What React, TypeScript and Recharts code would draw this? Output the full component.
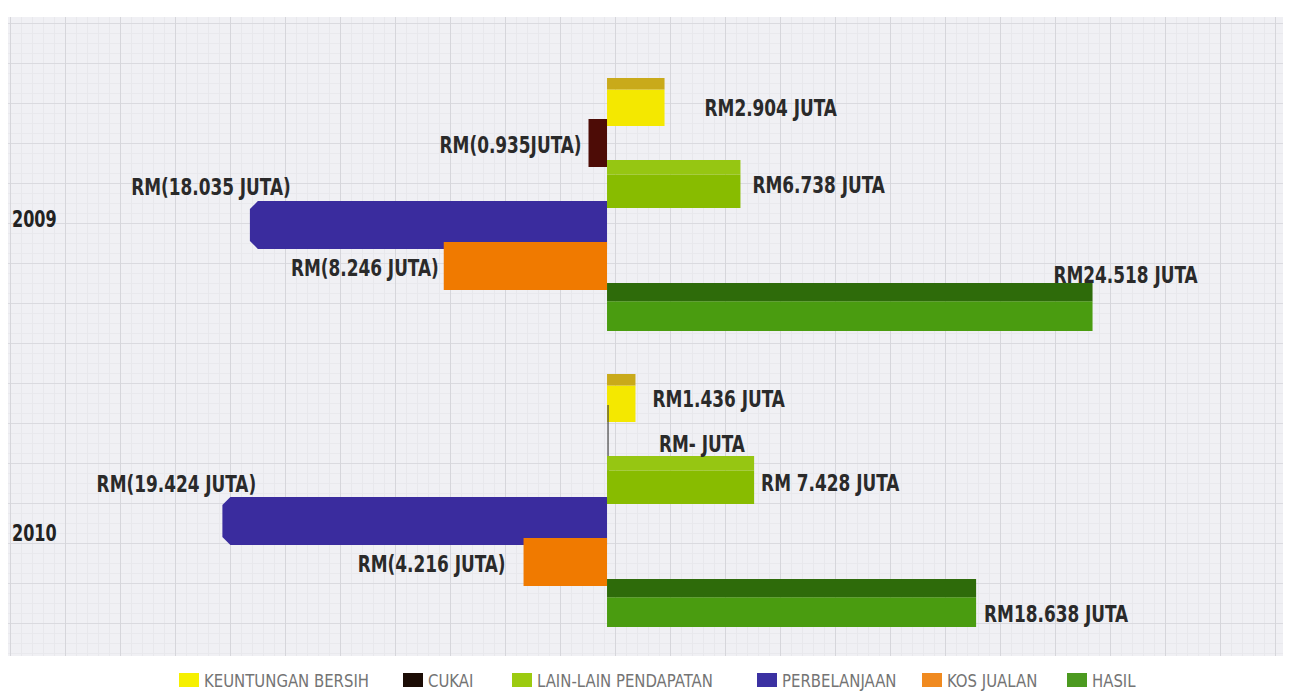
import React from 'react';
import { BarChart, Bar, XAxis, YAxis, Legend, LabelList } from 'recharts';

// ---------- data ----------
const years = ['2009', '2010'];
const keuntunganBersih = [2.904, 1.436];
const cukai = [-0.935, 0];
const lainLainPendapatan = [6.738, 7.428];
const perbelanjaan = [-18.035, -19.424];
const kosJualan = [-8.246, -4.216];
const hasil = [24.518, 18.638];

const labelsKeuntungan = ['RM2.904 JUTA', 'RM1.436 JUTA'];
const labelsCukai = ['RM(0.935JUTA)', 'RM- JUTA'];
const labelsLain = ['RM6.738 JUTA', 'RM 7.428 JUTA'];
const labelsPerbelanjaan = ['RM(18.035 JUTA)', 'RM(19.424 JUTA)'];
const labelsKos = ['RM(8.246 JUTA)', 'RM(4.216 JUTA)'];
const labelsHasil = ['RM24.518 JUTA', 'RM18.638 JUTA'];

const seriesNames = [
  'KEUNTUNGAN BERSIH',
  'CUKAI',
  'LAIN-LAIN PENDAPATAN',
  'PERBELANJAAN',
  'KOS JUALAN',
  'HASIL',
];

const data = years.map((year, i) => ({
  year,
  keuntungan: keuntunganBersih[i],
  cukai: cukai[i],
  lain: lainLainPendapatan[i],
  perbelanjaan: perbelanjaan[i],
  kos: kosJualan[i],
  hasil: hasil[i],
  lKeuntungan: labelsKeuntungan[i],
  lCukai: labelsCukai[i],
  lLain: labelsLain[i],
  lPerbelanjaan: labelsPerbelanjaan[i],
  lKos: labelsKos[i],
  lHasil: labelsHasil[i],
}));

// ---------- styles ----------
const LABEL_FONT = "'DejaVu Sans Condensed', 'DejaVu Sans', sans-serif";
const LABEL_SCALE_X = 0.8;

type Place = { mode: 'right' | 'left' | 'aboveLeft' | 'aboveRight'; dx: number; dy: number };

const SERIES = [
  {
    key: 'keuntungan', label: 'lKeuntungan', name: seriesNames[0],
    front: '#f4e800', top: '#c9aa1a', topRatio: 0.24, legend: '#f6f000', bevel: 0,
    place: [{ mode: 'right', dx: 40, dy: 5 }, { mode: 'right', dx: 17, dy: 0 }] as Place[],
  },
  {
    key: 'cukai', label: 'lCukai', name: seriesNames[1],
    front: '#4d0c06', top: '#3e0904', topRatio: 0, legend: '#1c0d06', bevel: 0,
    place: [{ mode: 'left', dx: 7, dy: 1 }, { mode: 'right', dx: 52, dy: 4 }] as Place[],
  },
  {
    key: 'lain', label: 'lLain', name: seriesNames[2],
    front: '#88bc00', top: '#96c612', topRatio: 0.3, legend: '#9ccb10', bevel: 0,
    place: [{ mode: 'right', dx: 12, dy: 0 }, { mode: 'right', dx: 7, dy: 2 }] as Place[],
  },
  {
    key: 'perbelanjaan', label: 'lPerbelanjaan', name: seriesNames[3],
    front: '#3a2c9e', top: '#3a2c9e', topRatio: 0, legend: '#3b31a2', bevel: 8,
    place: [{ mode: 'aboveLeft', dx: -39, dy: -15 }, { mode: 'aboveLeft', dx: -46, dy: -14 }] as Place[],
  },
  {
    key: 'kos', label: 'lKos', name: seriesNames[4],
    front: '#f07a00', top: '#f07a00', topRatio: 0, legend: '#f08a20', bevel: 0,
    place: [{ mode: 'left', dx: 5, dy: 1 }, { mode: 'left', dx: 18, dy: 1 }] as Place[],
  },
  {
    key: 'hasil', label: 'lHasil', name: seriesNames[5],
    front: '#4a9c10', top: '#2e6b0a', topRatio: 0.38, legend: '#4c9a20', bevel: 0,
    place: [{ mode: 'aboveRight', dx: 33, dy: -9 }, { mode: 'right', dx: 8, dy: 10 }] as Place[],
  },
];

const makeShape = (s: typeof SERIES[number]) => (props: any) => {
  const { x, y, width, height } = props;
  if (x == null || y == null) return <g />;
  const x0 = Math.min(x, x + width);
  const w = Math.abs(width);
  const h = Math.abs(height);
  const y0 = Math.min(y, y + height);
  if (w < 1) {
    return <line x1={x0 + 1} x2={x0 + 1} y1={y0 - 10} y2={y0 + h + 14} stroke="#444" strokeWidth={1.2} />;
  }
  const th = h * s.topRatio;
  const b = Math.min(s.bevel, w / 2);
  if (b > 0) {
    const pts = [
      [x0 + b, y0], [x0 + w, y0], [x0 + w, y0 + h], [x0 + b, y0 + h], [x0, y0 + h - b], [x0, y0 + b],
    ].map((p) => p.join(',')).join(' ');
    return <polygon points={pts} fill={s.front} />;
  }
  return (
    <g>
      <rect x={x0} y={y0 + th} width={w} height={h - th} fill={s.front} />
      {th > 0 && <rect x={x0} y={y0} width={w} height={th} fill={s.top} />}
    </g>
  );
};

const makeLabel = (s: typeof SERIES[number]) => (props: any) => {
  const vb = props.viewBox && props.viewBox.width != null ? props.viewBox : props;
  const { value, index } = props;
  if (vb.x == null) return null;
  const x0 = Math.min(vb.x, vb.x + vb.width);
  const x1 = Math.max(vb.x, vb.x + vb.width);
  const yTop = Math.min(vb.y, vb.y + vb.height);
  const yc = yTop + Math.abs(vb.height) / 2;
  const p = s.place[index] || s.place[0];
  let tx = 0;
  let ty = 0;
  let anchor: 'start' | 'end' | 'middle' = 'start';
  if (p.mode === 'right') {
    tx = x1 + p.dx; ty = yc + p.dy; anchor = 'start';
  } else if (p.mode === 'left') {
    tx = x0 - p.dx; ty = yc + p.dy; anchor = 'end';
  } else if (p.mode === 'aboveLeft') {
    tx = x0 + p.dx; ty = yTop + p.dy; anchor = 'middle';
  } else {
    tx = x1 + p.dx; ty = yTop + p.dy; anchor = 'middle';
  }
  return (
    <text
      transform={`translate(${tx},${ty + 8.5}) scale(${LABEL_SCALE_X},1)`}
      x={0}
      y={0}
      textAnchor={anchor}
      fontFamily={LABEL_FONT}
      fontWeight={700}
      fontSize={23.5}
      fill="#2a2a2a"
    >
      {value}
    </text>
  );
};

const YEAR_DY = [15, 33];

const YearTick = (props: any) => {
  const { y, payload, index } = props;
  const dy = YEAR_DY[index] ?? 24;
  return (
    <text
      transform={`translate(4,${y + dy + 8.5}) scale(0.76,1)`}
      x={0}
      y={0}
      textAnchor="start"
      fontFamily={LABEL_FONT}
      fontWeight={700}
      fontSize={23.5}
      fill="#222"
    >
      {payload.value}
    </text>
  );
};

const LEGEND_ITEM_WIDTHS = [224, 109, 245, 165, 145, 90];

const LegendContent = () => (
  <div
    style={{
      height: 45,
      boxSizing: 'border-box',
      paddingTop: 21,
      paddingLeft: 171,
      display: 'flex',
      alignItems: 'center',
      fontFamily: "'DejaVu Sans Condensed', 'DejaVu Sans', sans-serif",
      fontSize: 18,
      color: '#747474',
      whiteSpace: 'nowrap',
    }}
  >
    {SERIES.map((s, i) => (
      <div key={s.key} style={{ width: LEGEND_ITEM_WIDTHS[i], display: 'flex', alignItems: 'center', height: 24 }}>
        <span style={{ display: 'inline-block', width: 20, height: 14, background: s.legend, marginRight: 5, flex: 'none' }} />
        <span style={{ display: 'inline-block', transform: 'scaleX(0.92)', transformOrigin: 'left center' }}>{s.name}</span>
      </div>
    ))}
  </div>
);

export default function App() {
  return (
    <div style={{ position: 'relative', width: 1275, height: 687 }}>
      <div
        style={{
          position: 'absolute',
          left: -1,
          top: 9,
          width: 1278,
          height: 639,
          backgroundColor: '#f0f0f4',
          backgroundImage: [
            'linear-gradient(to right, #d6d6db 1px, transparent 1px)',
            'linear-gradient(to bottom, #dadadf 1px, transparent 1px)',
            'linear-gradient(to right, #e8e8ec 1px, transparent 1px)',
            'linear-gradient(to bottom, #e9e9ed 1px, transparent 1px)',
          ].join(','),
          backgroundSize: '55px 100%, 100% 40px, 11px 100%, 100% 10px',
          backgroundPosition: '3px 0, 0 6px, 3px 0, 0 6px',
        }}
      />
      <div style={{ position: 'absolute', left: 0, top: 0 }}>
        <BarChart
          width={1275}
          height={687}
          data={data}
          layout="vertical"
          margin={{ top: 47, right: 13, left: 0, bottom: 3 }}
          barCategoryGap={23}
          barGap={-7}
        >
          <XAxis type="number" hide domain={[-27.12, 33.48]} allowDataOverflow />
          <YAxis
            type="category"
            dataKey="year"
            width={62}
            axisLine={false}
            tickLine={false}
            tick={<YearTick />}
          />
          <Legend verticalAlign="bottom" wrapperStyle={{ left: 0, width: 1275 }} content={<LegendContent />} />
          {SERIES.map((s) => (
            <Bar
              key={s.key}
              dataKey={s.key}
              name={s.name}
              fill={s.front}
              isAnimationActive={false}
              shape={makeShape(s)}
            >
              <LabelList dataKey={s.label} content={makeLabel(s)} />
            </Bar>
          ))}
        </BarChart>
      </div>
    </div>
  );
}
